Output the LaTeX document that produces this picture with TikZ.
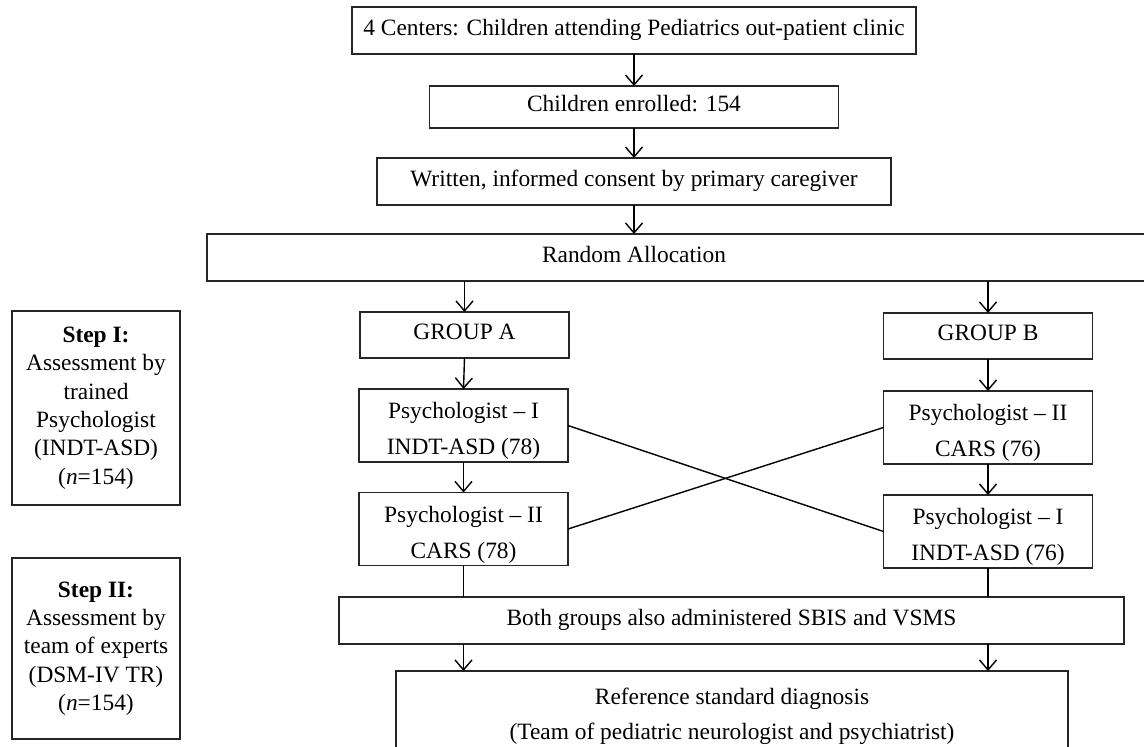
\documentclass[tikz,border=0pt]{standalone}
\usepackage{fontspec}
\setmainfont{Liberation Serif}
\usepackage{tikz}
\usetikzlibrary{arrows.meta}
\newcommand{\flowfont}{\fontsize{23.4pt}{28.3pt}\selectfont}
\newcommand{\pairfont}{\fontsize{23.4pt}{36pt}\selectfont}
\tikzstyle{flowbox}=[draw=black!85, line width=1.8pt, inner sep=0, outer sep=0, align=center, font=\flowfont]
\tikzstyle{onebox}=[flowbox, text height=0.9em, text depth=0pt]
\tikzstyle{pairbox}=[flowbox, font=\pairfont, text height=58pt, text depth=0pt, minimum width=209pt, minimum height=73pt]
\tikzstyle{groupbox}=[onebox, minimum width=209pt, minimum height=46pt]
\tikzstyle{stepbox}=[flowbox, minimum width=168pt]
\tikzstyle{link}=[line width=1.4pt]
\tikzstyle{flowarrow}=[link, -{Straight Barb[length=10pt, width=17pt, line width=1.4pt]}]
\tikzstyle{flowchart}=[x=1pt, y=-1pt,
                       % Fix the page to the size of the original figure.
                       execute at begin picture={\useasboundingbox (0,0) rectangle (1144,747);}]

\begin{document}
\begin{tikzpicture}[flowchart]
        % Main column
        \node[onebox, minimum width=564pt, minimum height=47pt] (centers) at (634, 30.5) {4 Centers: Children attending Pediatrics out-patient clinic};
        \node[onebox, minimum width=409pt, minimum height=42pt] (enrol) at (634, 107) {Children enrolled: 154};
        \node[onebox, minimum width=514pt, minimum height=47pt] (consent) at (634, 181.5) {Written, informed consent by primary caregiver};
        \node[flowbox, minimum width=943pt, minimum height=47pt, anchor=west] (random) at (207, 257.5) {};
        \node[onebox, draw=none] (randomtext) at (634, 257.5) {Random Allocation};
        \draw[flowarrow] (centers.south) -- (enrol.north);
        \draw[flowarrow] (enrol.south) -- (consent.north);
        \draw[flowarrow] (consent.south) -- (consent |- random.north);

        % Two groups
        \node[groupbox] (groupA) at (464.5, 335) {GROUP A};
        \node[groupbox] (groupB) at (988, 336) {GROUP B};
        \node[pairbox] (psyIA) at (463.5, 425.5) {Psychologist – I\\INDT-ASD (78)};
        \node[pairbox] (psyIIA) at (463.5, 529) {Psychologist – II\\CARS (78)};
        \node[pairbox] (psyIIB) at (988, 427.5) {Psychologist – II\\CARS (76)};
        \node[pairbox] (psyIB) at (988, 531.5) {Psychologist – I\\INDT-ASD (76)};
        \draw[flowarrow] (groupA |- random.south) -- (groupA.north);
        \draw[flowarrow] (groupB |- random.south) -- (groupB.north);
        \draw[flowarrow] (groupA.south) -- (psyIA.north);
        \draw[flowarrow] (psyIA.south) -- (psyIIA.north);
        \draw[flowarrow] (groupB.south) -- (psyIIB.north);
        \draw[flowarrow] (psyIIB.south) -- (psyIB.north);
        \draw[link] (psyIA.east) -- (psyIB.west);
        \draw[link] (psyIIA.east) -- (psyIIB.west);

        % Bottom
        \node[onebox, minimum width=785pt, minimum height=47pt] (both) at (731.5, 620.5) {Both groups also administered SBIS and VSMS};
        \node[flowbox, minimum width=672pt, minimum height=110pt, anchor=north] (ref) at (732, 671) {};
        \node[flowbox, draw=none, font=\fontsize{23.4pt}{35pt}\selectfont] (reftext) at (732, 716) {Reference standard diagnosis\\(Team of pediatric neurologist and psychiatrist)};
        \draw[link] (psyIIA.south) -- (psyIIA |- both.north);
        \draw[link] (psyIB.south) -- (psyIB |- both.north);
        \draw[flowarrow] (psyIIA |- both.south) -- (psyIIA |- ref.north);
        \draw[flowarrow] (psyIB |- both.south) -- (psyIB |- ref.north);

        % Steps
        \node[stepbox, minimum height=194pt] (stepI) at (96, 408) {\textbf{Step I:}\\Assessment by\\trained\\Psychologist\\(INDT-ASD)\\(\textit{n}=154)};
        \node[stepbox, minimum height=181pt] (stepII) at (96, 648.5) {\textbf{Step II:}\\Assessment by\\team of experts\\(DSM-IV TR)\\(\textit{n}=154)};
    \end{tikzpicture}
\end{document}
